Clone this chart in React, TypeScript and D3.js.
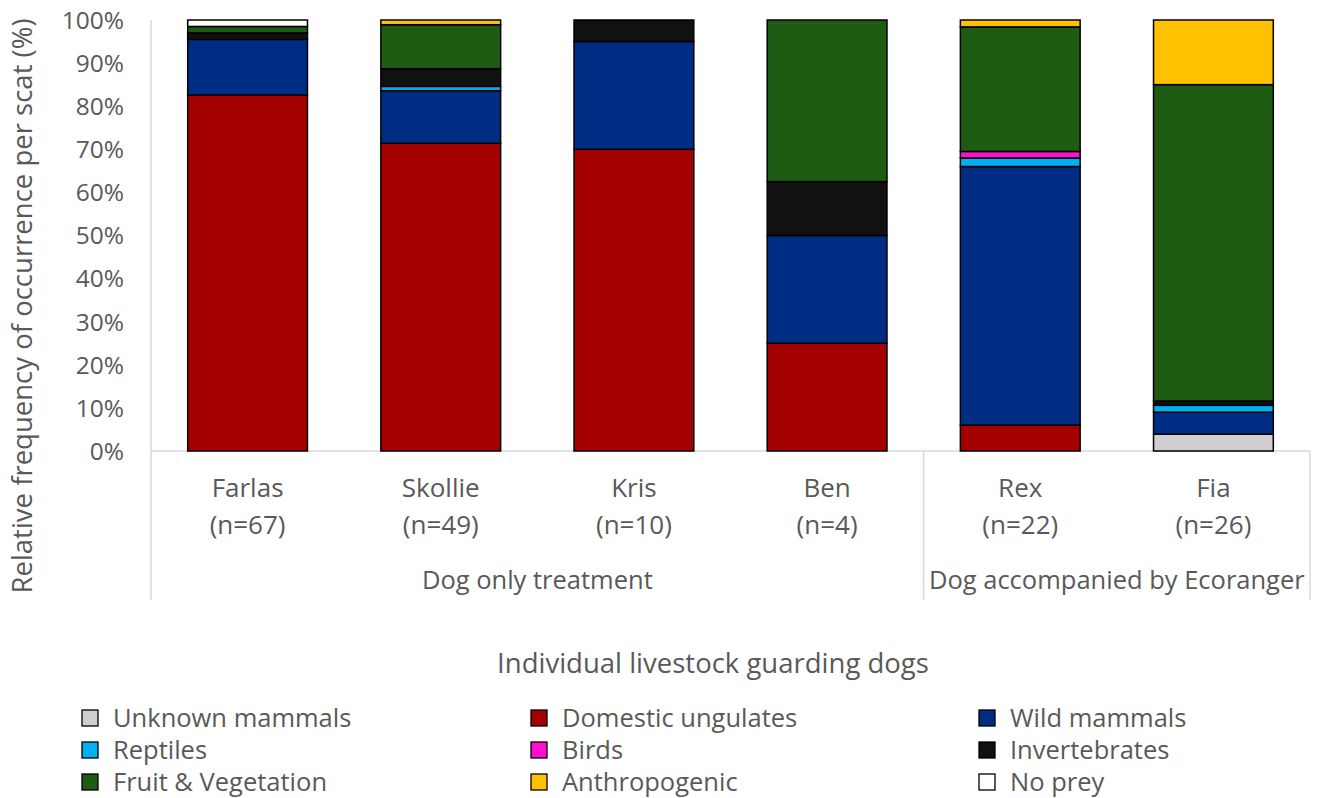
import React from "react";
import * as d3 from "d3";

const dogs = ["Farlas", "Skollie", "Kris", "Ben", "Rex", "Fia"];
const sampleSizes = ["(n=67)", "(n=49)", "(n=10)", "(n=4)", "(n=22)", "(n=26)"];
const groups = [
  { label: "Dog only treatment", from: 0, to: 4 },
  { label: "Dog accompanied by Ecoranger", from: 4, to: 6 },
];
const categories = [
  "Unknown mammals",
  "Domestic ungulates",
  "Wild mammals",
  "Reptiles",
  "Birds",
  "Invertebrates",
  "Fruit & Vegetation",
  "Anthropogenic",
  "No prey",
];
const colors = ["#D0CECE", "#A50000", "#002D84", "#00B0F0", "#FF10CC", "#111111", "#1E5C14", "#FFC000", "#FFFFFF"];

// values per category, in dog order
const unknownMammals = [0, 0, 0, 0, 0, 3.9];
const domesticUngulates = [82.6, 71.4, 70, 25, 6, 0];
const wildMammals = [12.9, 12.2, 25, 25, 60, 5.1];
const reptiles = [0, 1.0, 0, 0, 2, 1.6];
const birds = [0, 0, 0, 0, 1.5, 0];
const invertebrates = [1.5, 4.1, 5, 12.5, 0, 1.0];
const fruitVegetation = [1.5, 10.2, 0, 37.5, 28.9, 73.4];
const anthropogenic = [0, 1.1, 0, 0, 1.6, 15];
const noPrey = [1.5, 0, 0, 0, 0, 0];
const seriesValues = [unknownMammals, domesticUngulates, wildMammals, reptiles, birds, invertebrates, fruitVegetation, anthropogenic, noPrey];
const yTicks = [0, 10, 20, 30, 40, 50, 60, 70, 80, 90, 100];

const FONT = "'Open Sans', sans-serif";
const TXT = "#595959";

export default function App() {
  const W = 1318, H = 798;
  const left = 151, right = 1310, top = 20, bottom = 451;
  const x = d3.scaleBand<number>().domain(d3.range(dogs.length)).range([left, right]).paddingInner(0.38).paddingOuter(0.19);
  const y = d3.scaleLinear().domain([0, 100]).range([bottom, top]);
  const catW = (right - left) / dogs.length;

  const rows = dogs.map((_, i) => {
    const r: any = {};
    categories.forEach((c, k) => (r[c] = seriesValues[k][i]));
    return r;
  });
  const stacked = d3.stack<any>().keys(categories)(rows);

  return (
    <svg width={W} height={H} style={{ position: "absolute", left: 0, top: 0, background: "#fff" }} fontFamily={FONT}>
      <line x1={left} x2={left} y1={top} y2={600} stroke="#D9D9D9" strokeWidth={1.5} />
      <line x1={left} x2={right} y1={bottom} y2={bottom} stroke="#D9D9D9" strokeWidth={1.5} />
      {groups.map((g, i) => (
        <line key={i} x1={left + g.to * catW} x2={left + g.to * catW} y1={bottom} y2={600} stroke="#D9D9D9" strokeWidth={1.5} />
      ))}
      {yTicks.map((t) => (
        <text key={t} x={124} y={y(t)} dy="0.36em" textAnchor="end" fontSize={24.5} fill={TXT}>
          {t}%
        </text>
      ))}
      <text transform={`translate(32,306) rotate(-90)`} textAnchor="middle" fontSize={27.5} fill={TXT}>
        Relative frequency of occurrence per scat (%)
      </text>
      {stacked.map((s, k) => (
        <g key={k} fill={colors[k]}>
          {s.map((d, i) =>
            d[1] - d[0] > 0 ? (
              <rect key={i} x={x(i)!} width={x.bandwidth()} y={y(d[1])} height={y(d[0]) - y(d[1])} stroke="#000" strokeWidth={1.5} />
            ) : null
          )}
        </g>
      ))}
      {dogs.map((d, i) => (
        <g key={d}>
          <text x={x(i)! + x.bandwidth() / 2} y={497} textAnchor="middle" fontSize={26} fill={TXT}>{d}</text>
          <text x={x(i)! + x.bandwidth() / 2} y={534} textAnchor="middle" fontSize={26} fill={TXT}>{sampleSizes[i]}</text>
        </g>
      ))}
      {groups.map((g) => (
        <text key={g.label} x={left + ((g.from + g.to) / 2) * catW} y={589} textAnchor="middle" fontSize={25.5} fill={TXT}>
          {g.label}
        </text>
      ))}
      <text x={713} y={673} textAnchor="middle" fontSize={27.5} fill={TXT}>Individual livestock guarding dogs</text>
      {categories.map((c, k) => {
        const col = k % 3, row = Math.floor(k / 3);
        const lx = [82, 531, 979][col];
        const ly = 718 + row * 32;
        return (
          <g key={c}>
            <rect x={lx} y={ly - 8} width={16} height={16} fill={colors[k]} stroke="#000" strokeWidth={1.3} />
            <text x={lx + 31} y={ly} dy="0.36em" fontSize={25.5} fill={TXT}>{c}</text>
          </g>
        );
      })}
    </svg>
  );
}
